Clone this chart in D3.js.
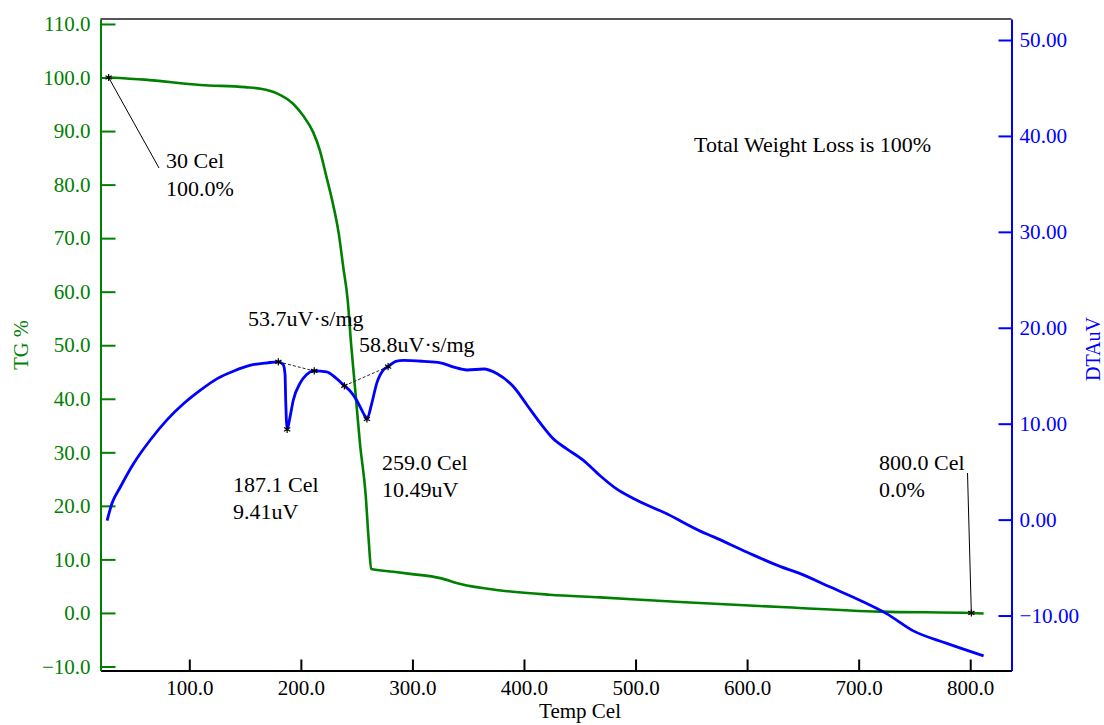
<!DOCTYPE html>
<html>
<head>
<meta charset="utf-8">
<script src="https://cdn.jsdelivr.net/npm/d3@7"></script>
<style>
  body { margin: 0; background: #fff; }
  svg { display: block; font-family: "Liberation Serif", "Times New Roman", serif; }
</style>
</head>
<body>
<svg id="chart" width="1104" height="725"></svg>
<script>
// TG curve (weight %)
const tgTemp = [27.7, 60, 110, 150, 164, 179, 193, 202, 211, 217, 223, 228, 234, 238, 242, 245, 249, 253, 258, 261, 263,
                283, 298, 325, 343, 379, 423, 468, 540, 630, 719, 801, 812];
const tgVal  = [100, 99.6, 98.6, 98.2, 97.9, 97.0, 95.1, 92.9, 89.8, 86.4, 81.4, 77.1, 70.8, 64.6, 58.4, 50.3, 41.0, 31.6, 22.3, 13.0, 8.2,
                7.7, 7.3, 6.5, 5.4, 4.2, 3.4, 2.9, 2.05, 1.1, 0.25, 0.0, -0.1];

// DTA curve (uV)
const dtaTemp = [26.3, 30.7, 38.2, 50.1, 65, 80, 95, 110, 125, 140, 155, 170, 179.8, 184, 185.8, 186.4, 187.7, 190.3, 193.2, 199.2, 205,
                 212, 223, 231, 239, 245, 250, 256, 259.2, 263.5, 268, 274, 278.2, 285, 292, 310, 325, 337, 349, 364, 376, 391, 403,
                 415, 426, 438, 453, 468, 483, 498, 528, 558, 570, 600, 630, 647, 674, 701, 725, 749, 779, 812];
const dtaVal  = [-0.1, 1.7, 3.4, 5.85, 8.3, 10.4, 12.1, 13.5, 14.7, 15.5, 16.1, 16.35, 16.45, 16.2, 15.2, 12.5, 9.41, 10.7, 12.45, 14.2, 15.1,
                 15.5, 15.4, 14.8, 13.95, 13.3, 12.45, 11.1, 10.49, 12.1, 14.2, 15.6, 15.95, 16.5, 16.6, 16.5, 16.35, 15.9, 15.6, 15.7, 15.2, 13.8, 11.9,
                 10.0, 8.45, 7.4, 6.2, 4.6, 3.2, 2.2, 0.6, -1.2, -1.8, -3.4, -4.9, -5.6, -7.0, -8.4, -9.8, -11.6, -12.9, -14.2];

// marked points
const tgMarkTemp  = [27.7, 801];
const tgMarkVal   = [100, 0.0];
const dtaMarkTemp = [179.8, 187.7, 212, 239, 259.2, 278.2];
const dtaMarkVal  = [16.45, 9.41, 15.5, 13.95, 10.49, 15.95];

// tick values
const xTicks   = [100, 200, 300, 400, 500, 600, 700, 800];
const tgTicks  = [-10, 0, 10, 20, 30, 40, 50, 60, 70, 80, 90, 100, 110];
const dtaTicks = [-10, 0, 10, 20, 30, 40, 50];

const GREEN = '#008000', BLUE = '#0000ff';
const plotL = 100.5, plotR = 1011.5, plotT = 19, plotB = 670.5;

const svg = d3.select('#chart');

const x   = d3.scaleLinear().domain([20.4, 837]).range([plotL, plotR]);
const yTG = d3.scaleLinear().domain([-10.75, 110.93]).range([plotB, plotT]);
const yDT = d3.scaleLinear().domain([-15.73, 52.19]).range([plotB, plotT]);

// top border
svg.append('line')
    .attr('x1', plotL).attr('x2', plotR).attr('y1', plotT).attr('y2', plotT)
    .attr('stroke', '#555').attr('stroke-width', 2);

// AXES
const styleAxis = (g, color, size) => {
    g.selectAll('path, line').attr('stroke', color).attr('stroke-width', 2);
    g.selectAll('text').attr('fill', color).style('font-size', size + 'px')
        .style('font-family', '"Liberation Serif", serif');
};

svg.append('g')
    .attr('transform', `translate(0,${plotB})`)
    .call(d3.axisBottom(x).tickValues(xTicks).tickFormat(d3.format('.1f'))
        .tickSizeInner(-11).tickSizeOuter(0).tickPadding(10))
    .call(g => styleAxis(g, '#000', 21));

svg.append('g')
    .attr('transform', `translate(${plotL},0)`)
    .call(d3.axisLeft(yTG).tickValues(tgTicks).tickFormat(d3.format('.1f'))
        .tickSizeInner(-15).tickSizeOuter(0).tickPadding(10))
    .call(g => styleAxis(g, GREEN, 21));

svg.append('g')
    .attr('transform', `translate(${plotR},0)`)
    .call(d3.axisRight(yDT).tickValues(dtaTicks).tickFormat(d3.format('.2f'))
        .tickSizeInner(-13).tickSizeOuter(0).tickPadding(8))
    .call(g => styleAxis(g, BLUE, 21.2));

// axis titles
svg.append('text').attr('x', 580).attr('y', 718).attr('text-anchor', 'middle')
    .style('font-size', '21px').text('Temp Cel');
svg.append('text').attr('transform', 'translate(28,345) rotate(-90)').attr('text-anchor', 'middle')
    .attr('fill', GREEN).style('font-size', '20.5px').text('TG %');
svg.append('text').attr('transform', 'translate(1100,349) rotate(-90)').attr('text-anchor', 'middle')
    .attr('fill', BLUE).style('font-size', '20px').text('DTAuV');

// CURVES
const tgLine = d3.line().curve(d3.curveMonotoneX).x(i => x(tgTemp[i])).y(i => yTG(tgVal[i]));
const dtLine = d3.line().curve(d3.curveMonotoneX).x(i => x(dtaTemp[i])).y(i => yDT(dtaVal[i]));

svg.append('path').attr('d', tgLine(d3.range(tgTemp.length)))
    .attr('fill', 'none').attr('stroke', GREEN).attr('stroke-width', 2.6).attr('stroke-linejoin', 'round');
svg.append('path').attr('d', dtLine(d3.range(dtaTemp.length)))
    .attr('fill', 'none').attr('stroke', BLUE).attr('stroke-width', 2.8).attr('stroke-linejoin', 'round');

// peak baselines (dashed)
[[0, 2], [3, 5]].forEach(([a, b]) => {
    svg.append('line')
        .attr('x1', x(dtaMarkTemp[a])).attr('y1', yDT(dtaMarkVal[a]))
        .attr('x2', x(dtaMarkTemp[b])).attr('y2', yDT(dtaMarkVal[b]))
        .attr('stroke', '#222').attr('stroke-width', 1).attr('stroke-dasharray', '3,2');
});

// leader lines
svg.append('line')
    .attr('x1', x(tgMarkTemp[0])).attr('y1', yTG(tgMarkVal[0]))
    .attr('x2', 159).attr('y2', 168)
    .attr('stroke', '#000').attr('stroke-width', 1);
svg.append('line')
    .attr('x1', x(tgMarkTemp[1])).attr('y1', yTG(tgMarkVal[1]))
    .attr('x2', 967.5).attr('y2', 473)
    .attr('stroke', '#000').attr('stroke-width', 1);

// markers
const star = d3.symbol(d3.symbolAsterisk).size(36);
const marks = tgMarkTemp.map((t, i) => [x(t), yTG(tgMarkVal[i])])
    .concat(dtaMarkTemp.map((t, i) => [x(t), yDT(dtaMarkVal[i])]));
svg.selectAll('.mark').data(marks).enter().append('path')
    .attr('class', 'mark')
    .attr('transform', d => `translate(${d[0]},${d[1]})`)
    .attr('d', star)
    .attr('fill', 'none').attr('stroke', '#000').attr('stroke-width', 1.2);

// annotation texts
const notes = [
    [166, 168, '30 Cel'], [166, 196, '100.0%'],
    [248, 326, '53.7uV·s/mg'], [359, 352, '58.8uV·s/mg'],
    [233, 492, '187.1 Cel'], [233, 519, '9.41uV'],
    [382, 470, '259.0 Cel'], [382, 497, '10.49uV'],
    [879, 470, '800.0 Cel'], [879, 497, '0.0%'],
    [694, 152, 'Total Weight Loss is 100%']
];
svg.selectAll('.note').data(notes).enter().append('text')
    .attr('class', 'note')
    .attr('x', d => d[0]).attr('y', d => d[1])
    .style('font-size', '22px')
    .text(d => d[2]);
</script>
</body>
</html>
